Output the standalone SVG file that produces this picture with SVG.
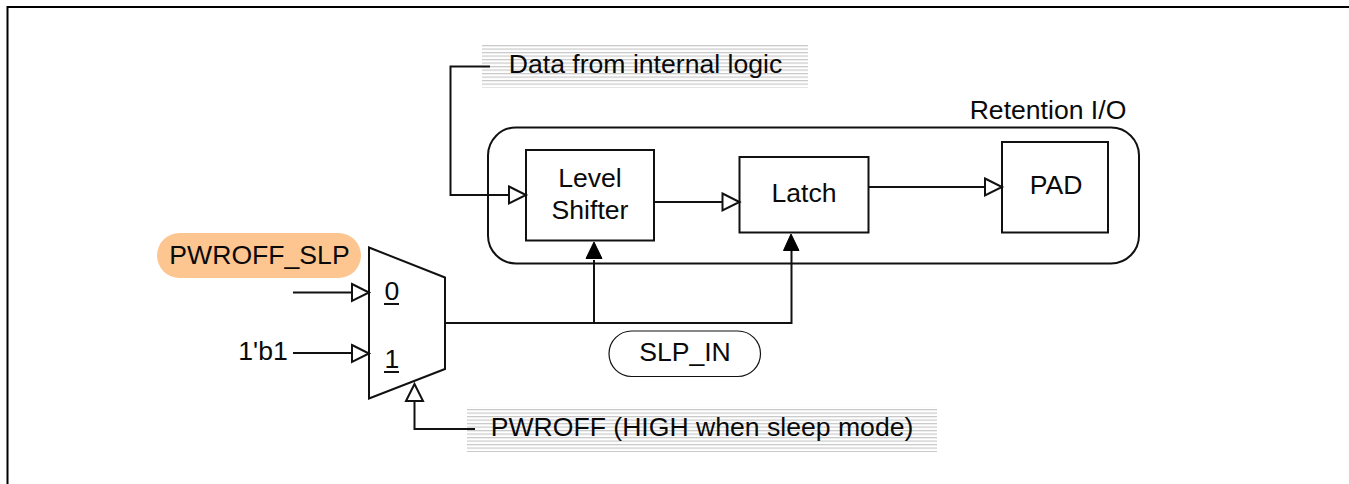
<svg xmlns="http://www.w3.org/2000/svg" width="1349" height="484" viewBox="0 0 1349 484">
<style>
text{font-family:"Liberation Sans",Arial,sans-serif;font-size:26.6px;fill:#0a0a0a;text-anchor:middle}
.n{fill:#fff;stroke:#111;stroke-width:2}
.w{fill:none;stroke:#111;stroke-width:2}
.o{fill:#fff;stroke:#111;stroke-width:2;stroke-linejoin:miter}
.f{fill:#000;stroke:#000;stroke-width:1}
</style>
<defs>
<pattern id="st" width="4" height="3.5" patternUnits="userSpaceOnUse" patternTransform="translate(0 45)">
<rect width="4" height="3.5" fill="#fff"/>
<rect width="4" height="1.2" fill="#c8c8c8"/>
</pattern>
</defs>
<rect width="1349" height="484" fill="#fff"/>
<path id="frame" d="M7.500 484V7H1349" fill="none" stroke="#000" stroke-width="2"/>
<g id="retention-io">
<rect x="488" y="127.500" width="651" height="136" rx="28" ry="28" class="n"/>
<text x="1048" y="119">Retention I/O</text>
</g>
<g id="data-label">
<rect x="482" y="45" width="326" height="42.500" fill="url(#st)"/>
<text x="645.500" y="73">Data from internal logic</text>
</g>
<g id="pwroff-label">
<rect x="467" y="407" width="470" height="45" fill="url(#st)"/>
<text x="702" y="436">PWROFF (HIGH when sleep mode)</text>
</g>
<g id="level-shifter">
<rect x="526" y="150" width="128" height="90.500" class="n"/>
<text x="590" y="187">Level</text>
<text x="590" y="219">Shifter</text>
</g>
<g id="latch">
<rect x="739.500" y="157" width="129" height="75.500" class="n"/>
<text x="804" y="202">Latch</text>
</g>
<g id="pad">
<rect x="1002" y="142" width="106" height="90.500" class="n"/>
<text x="1056" y="194">PAD</text>
</g>
<g id="pwroff-slp">
<rect x="157" y="233" width="204" height="45" rx="22.500" ry="22.500" fill="#fdc58f"/>
<text x="259.500" y="263.500">PWROFF_SLP</text>
</g>
<g id="mux">
<path d="M369 247.500L445 277.500V369L369 398.500Z" class="n"/>
<text x="392" y="300">0</text>
<path d="M384 304H399" class="w" stroke-width="1.500"/>
<text x="392" y="368">1</text>
<path d="M384 372H399" class="w" stroke-width="1.500"/>
</g>
<g id="slp-in">
<rect x="609" y="331" width="151.500" height="45.500" rx="22.700" ry="22.700" fill="#fff" stroke="#111" stroke-width="1.200"/>
<text x="685" y="361">SLP_IN</text>
</g>
<g id="input-1b1">
<text x="263" y="360">1'b1</text>
</g>
<g id="connectors">
<path class="w" d="M490 66.500H450.500V195H510"/>
<path class="o" d="M509 186.500L526 195L509 203.500Z"/>
<path class="w" d="M654 202H723"/>
<path class="o" d="M722.500 193.500L739.500 202L722.500 210.500Z"/>
<path class="w" d="M868 187H986"/>
<path class="o" d="M985 178.500L1002 187L985 195.500Z"/>
<path class="w" d="M293 292.500H353"/>
<path class="o" d="M352 284L369 292.500L352 301Z"/>
<path class="w" d="M293 353H353"/>
<path class="o" d="M352 345L369 353.500L352 362Z"/>
<path class="w" d="M475 429H414.500V401"/>
<path class="o" d="M406 401L414.500 384L423 401Z"/>
<path class="w" d="M445 323H791.500V250"/>
<path class="w" d="M594 323V260" stroke-width="2.500"/>
<path class="f" d="M586 258.500L594 242L602 258.500Z"/>
<path class="f" d="M783.500 250.500L791 234L799 250.500Z"/>
</g>
</svg>
